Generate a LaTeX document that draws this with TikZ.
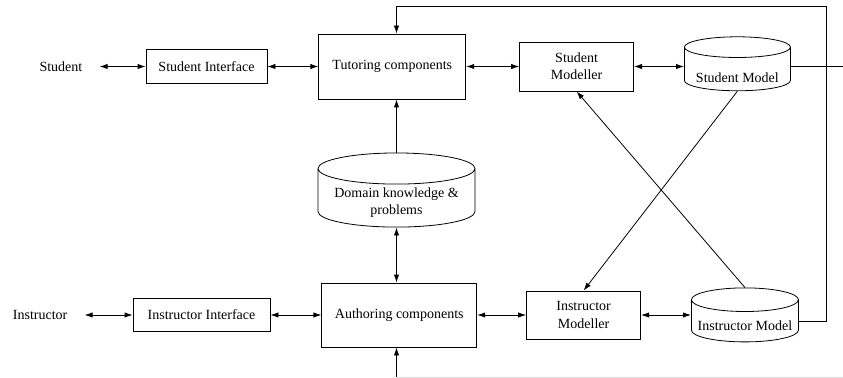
\documentclass[tikz,border=0pt]{standalone}
\usepackage{fontspec}
\setmainfont{Liberation Serif}
\usetikzlibrary{positioning,shapes.geometric,arrows.meta}

% text sits low in the cylinder body
\newcommand{\sunk}[2][7.8pt]{\raisebox{-#1}[\height][0pt]{#2}}

\tikzset{
  box/.style={draw, line width=0.6pt, inner sep=0pt, align=center},
  store/.style={draw, cylinder, shape border rotate=90, aspect=0.25, inner sep=0pt, align=center, line width=0.6pt},
  actor/.style={inner xsep=12.75pt, inner ysep=0pt},
  link/.style={line width=0.6pt, {Latex[length=6pt,width=4pt]}-{Latex[length=6pt,width=4pt]}},
  feed/.style={line width=0.6pt, -{Latex[length=6pt,width=4pt]}},
}

\begin{document}
\begin{tikzpicture}[x=0.75pt, y=-0.75pt, font=\fontsize{10.5}{13}\selectfont]
	\useasboundingbox (0,0) rectangle (843,378);

	% top row
	\node[box, minimum width=90.75pt, minimum height=25.5pt] (stuif) at (206.5,66.5) {Student Interface};
	\node[actor, left=34.5pt of stuif] (student) {Student};
	\node[box, right=38.25pt of stuif, minimum width=110.25pt, minimum height=48.75pt] (tutor) {Tutoring components};
	\node[box, right=39.75pt of tutor, minimum width=85.5pt, minimum height=36.75pt] (stumod) {Student\\Modeller};
	\node[store, right=37.5pt of stumod, yshift=-2pt, minimum width=79.5pt, minimum height=40.5pt] (stumodel) {\sunk[6.5pt]{Student Model}};

	\node[store, minimum width=117.75pt, minimum height=54pt] (dom) at (396.5,198)
		{\sunk[2.6pt]{Domain knowledge \&}\\\sunk[2.6pt]{problems}};

	% bottom row
	\node[box, minimum width=102.75pt, minimum height=24.75pt] (instif) at (201.5,315) {Instructor Interface};
	\node[actor, left=36pt of instif] (instructor) {Instructor};
	\node[box, right=38.25pt of instif, minimum width=116.25pt, minimum height=48pt] (author) {Authoring components};
	\node[box, right=36.75pt of author, minimum width=85.5pt, minimum height=36pt] (instmod) {Instructor\\Modeller};
	\node[store, right=37.5pt of instmod, yshift=-4.5pt, minimum width=80.25pt, minimum height=40.5pt] (instmodel) {\sunk[3.3pt]{Instructor Model}};

	\coordinate (rail) at (826,6);
	\coordinate (edgeR) at (843,66);
	\coordinate (edgeB) at (396.5,377);
	\coordinate (cornerB) at (843,377);

	\draw[link] (student) -- (stuif);
	\draw[link] (stuif) -- (tutor);
	\draw[link] (tutor) -- (stumod);
	\draw[link] (stumod.east) -- (stumod.east -| stumodel.west);
	\draw[link] (instructor) -- (instif);
	\draw[link] (instif) -- (author);
	\draw[link] (author) -- (instmod);
	\draw[link] (instmod.east) -- (instmod.east -| instmodel.west);

	\draw[feed] (dom.north) -- (tutor.south -| dom.north);
	\draw[link] (dom.south) -- (author.north -| dom.south);
	\draw[feed] (stumodel.south) -- (instmod.north);
	\draw[feed] (instmodel.north) -- (stumod.south);

	% feedback rails
	\draw[feed] (instmodel.east) -| (rail) -| (tutor.north -| dom.north);
	\draw[line width=0.6pt] (stumodel.east |- edgeR) -- (edgeR);
	\draw[feed] (edgeB) -- (author.south -| edgeB);
	\draw[gray!30] (edgeB) -- (cornerB);
\end{tikzpicture}
\end{document}
